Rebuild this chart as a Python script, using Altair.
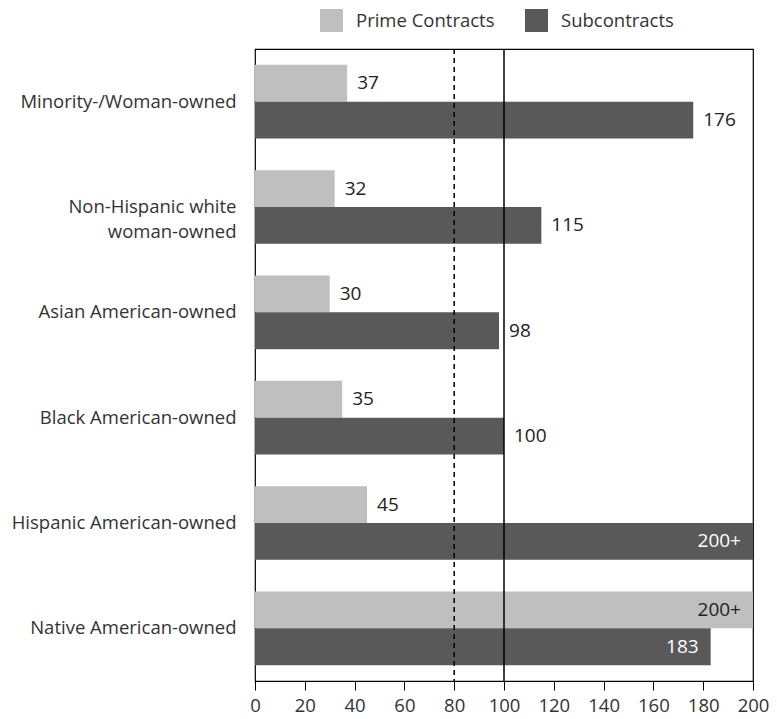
import altair as alt
import pandas as pd

categories = [
    "Minority-/Woman-owned",
    "Non-Hispanic white|woman-owned",
    "Asian American-owned",
    "Black American-owned ",
    "Hispanic American-owned",
    "Native American-owned",
]
series = ["Prime Contracts", "Subcontracts"]
prime_values = [37, 32, 30, 35, 45, 200]
prime_labels = ["37", "32", "30", "35", "45", "200+"]
prime_inside = [False, False, False, False, False, True]
sub_values = [176, 115, 98, 100, 200, 183]
sub_labels = ["176", "115", "98", "100", "200+", "183"]
sub_inside = [False, False, False, False, True, True]
ref_dashed = [80]
ref_solid = [100]
x_ticks = list(range(0, 201, 20))

rows = []
for i, c in enumerate(categories):
    rows.append(dict(category=c, series=series[0], value=prime_values[i],
                     label=prime_labels[i], inside=prime_inside[i]))
    rows.append(dict(category=c, series=series[1], value=sub_values[i],
                     label=sub_labels[i], inside=sub_inside[i]))
df = pd.DataFrame(rows)

FONT = "Open Sans"
FS = 19

y_enc = alt.Y("category:N", sort=categories, title=None,
              scale=alt.Scale(paddingInner=0.3, paddingOuter=0.15),
              axis=alt.Axis(ticks=False, domain=False, labelPadding=19,
                            labelFontSize=18.5, labelColor="#333333",
                            labelFont=FONT, labelLimit=400, labelLineHeight=25,
                            labelExpr="split(datum.label, '|')"))
yoff = alt.YOffset("series:N", sort=series)
x_scale = alt.Scale(domain=[0, 200], nice=False)

bars = alt.Chart(df).mark_bar().encode(
    x=alt.X("value:Q", scale=x_scale, title=None,
            axis=alt.Axis(values=x_ticks, grid=False, tickSize=9,
                          tickColor="black", domainColor="black",
                          labelFontSize=18.5, labelColor="#333333",
                          labelFont=FONT, labelPadding=6, labelFlush=False)),
    y=y_enc,
    yOffset=yoff,
    color=alt.Color("series:N", sort=series,
                    scale=alt.Scale(domain=series, range=["#bfbfbf", "#595959"]),
                    legend=alt.Legend(title=None, orient="none", legendX=65,
                                      legendY=-40, direction="horizontal",
                                      symbolType="square", symbolSize=529,
                                      symbolStrokeWidth=0, symbolOpacity=1,
                                      labelFontSize=18.5, labelFont=FONT,
                                      labelColor="#333333", labelOffset=13,
                                      columnPadding=30, padding=0)),
)

out_labels = alt.Chart(df).transform_filter("!datum.inside").mark_text(
    align="left", dx=10, fontSize=FS, font=FONT, color="#222222"
).encode(x=alt.X("value:Q", scale=x_scale), y=alt.Y("category:N", sort=categories),
         yOffset=yoff, text="label:N")

in_labels = alt.Chart(df).transform_filter("datum.inside").mark_text(
    align="right", dx=-12, fontSize=FS, font=FONT
).encode(x=alt.X("value:Q", scale=x_scale), y=alt.Y("category:N", sort=categories),
         yOffset=yoff, text="label:N",
         color=alt.condition("datum.series == 'Subcontracts'",
                             alt.value("white"), alt.value("#222222")))

dashed = alt.Chart(pd.DataFrame({"x": ref_dashed})).mark_rule(
    color="black", strokeWidth=1.5, strokeDash=[5, 4]
).encode(x=alt.X("x:Q", scale=x_scale))
solid = alt.Chart(pd.DataFrame({"x": ref_solid})).mark_rule(
    color="black", strokeWidth=1.5
).encode(x=alt.X("x:Q", scale=x_scale))

chart = alt.layer(bars, dashed, solid, out_labels, in_labels).properties(
    width=498, height=632,
    autosize=alt.AutoSizeParams(type="none"),
    padding={"left": 247, "top": 41, "right": 16, "bottom": 37},
).configure_view(stroke="black", strokeWidth=1.2)

chart.save("out.html", embed_options={"renderer": "svg", "actions": False})
